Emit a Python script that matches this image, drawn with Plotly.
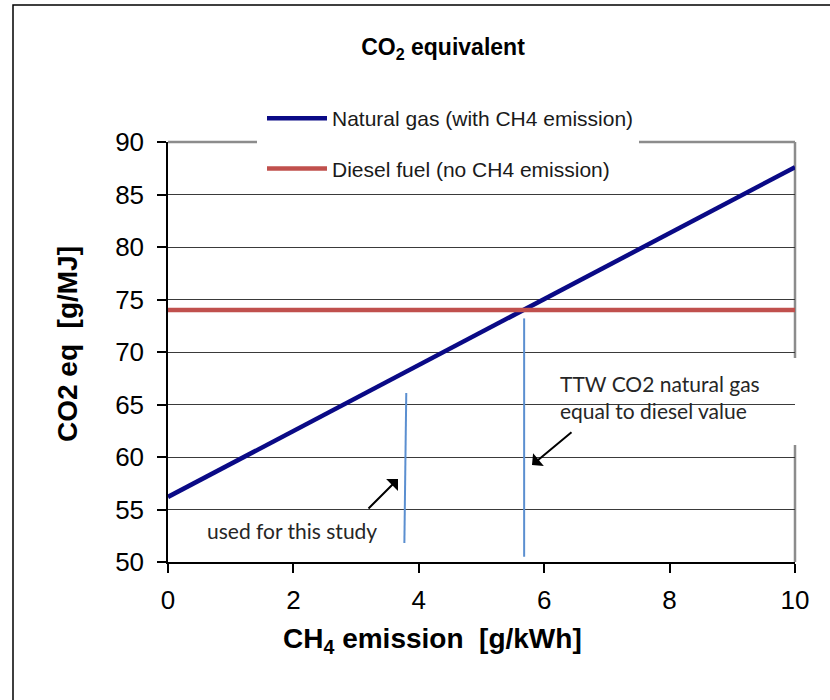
import plotly.graph_objects as go

# ---- data ----
ch4_emission = [0, 10]
natural_gas_co2 = [56.2, 87.6]
diesel_co2 = [74.0, 74.0]
study_x = [3.80, 3.77]
study_y = [66.1, 51.8]
equal_x = [5.68, 5.68]
equal_y = [73.2, 50.5]
x_ticks = [0, 2, 4, 6, 8, 10]
y_ticks = [50, 55, 60, 65, 70, 75, 80, 85, 90]

W, H = 830, 700
L, R, T, B = 168, 35, 142, 138
PW, PH = W - L - R, H - T - B


def px(xp):
    return (xp - L) / PW


def py(yp):
    return (H - B - yp) / PH


def dx(xp):
    return (xp - L) / PW * 10


def dy(yp):
    return 90 - (yp - T) / PH * 40


ARIAL = "Liberation Sans, Arial, sans-serif"
CALIBRI = "Lato, Carlito, Calibri, sans-serif"

fig = go.Figure()
fig.add_trace(go.Scatter(x=ch4_emission, y=natural_gas_co2, mode="lines",
                         name="Natural gas (with CH4 emission)", legendgroup="a",
                         line=dict(color="#0a0a86", width=4.5)))
fig.add_trace(go.Scatter(x=ch4_emission, y=diesel_co2, mode="lines",
                         name="Diesel fuel (no CH4 emission)", legendgroup="b",
                         line=dict(color="#c0504d", width=4.5)))
fig.add_trace(go.Scatter(x=study_x, y=study_y, mode="lines", showlegend=False,
                         line=dict(color="#5b8fd0", width=2)))
fig.add_trace(go.Scatter(x=equal_x, y=equal_y, mode="lines", showlegend=False,
                         line=dict(color="#5b8fd0", width=2)))

shapes = [
    # outer frame
    dict(type="rect", xref="paper", yref="paper", x0=px(13), x1=px(1000),
         y0=py(900), y1=py(5), line=dict(color="black", width=1.5), layer="below"),
    # top and right plot border (gray)
    dict(type="line", xref="paper", yref="paper", x0=0, x1=1, y0=1, y1=1,
         line=dict(color="#8c8c8c", width=2.5), layer="between"),
    dict(type="line", xref="paper", yref="paper", x0=1, x1=1, y0=0, y1=1,
         line=dict(color="#8c8c8c", width=2.5), layer="between"),
    # white text boxes hiding gridlines
    dict(type="rect", xref="paper", yref="paper", x0=px(538), x1=px(802),
         y0=py(445), y1=py(358), fillcolor="white", line=dict(width=0), layer="between"),
    dict(type="rect", xref="paper", yref="paper", x0=px(183), x1=px(416),
         y0=py(550), y1=py(497), fillcolor="white", line=dict(width=0), layer="between"),
    dict(type="rect", xref="paper", yref="paper", x0=px(257), x1=px(300),
         y0=py(150), y1=py(134), fillcolor="white", line=dict(width=0), layer="between"),
]

annotations = [
    dict(text="CO2 eq&nbsp;&nbsp;[g/MJ]", xref="paper", yref="paper", x=px(67), y=py(344),
         xanchor="center", yanchor="middle",
         textangle=-90, showarrow=False, font=dict(family=ARIAL, size=28, color="black",
                                                    weight="bold")),
    dict(text="CH<sub>4</sub> emission&nbsp;&nbsp;[g/kWh]", xref="paper", yref="paper",
         x=px(432), y=py(640), xanchor="center", yanchor="middle", showarrow=False,
         font=dict(family=ARIAL, size=28, color="black", weight="bold")),
    dict(text="TTW CO2 natural gas<br>equal to diesel value", xref="paper", yref="paper",
         x=px(558), y=py(397), xanchor="left", yanchor="middle", align="left",
         showarrow=False, font=dict(family=CALIBRI, size=21, color="#262626")),
    dict(text="used for this study", xref="paper", yref="paper", x=px(292), y=py(530),
         xanchor="center", yanchor="middle",
         showarrow=False, font=dict(family=CALIBRI, size=21, color="#262626")),
    dict(text="", x=dx(398), y=dy(479), ax=dx(367), ay=dy(510), axref="x", ayref="y",
         showarrow=True, arrowhead=1, arrowsize=1.4, arrowwidth=2, arrowcolor="black"),
    dict(text="", x=dx(532), y=dy(465), ax=dx(573), ay=dy(431), axref="x", ayref="y",
         showarrow=True, arrowhead=1, arrowsize=1.4, arrowwidth=2, arrowcolor="black"),
]

fig.update_layout(
    width=W, height=H,
    margin=dict(l=L, r=R, t=T, b=B),
    paper_bgcolor="white", plot_bgcolor="white",
    title=dict(text="CO<sub>2</sub> equivalent", x=px(443), xref="paper", xanchor="center",
               y=1 - 47 / H, yanchor="middle",
               font=dict(family=ARIAL, size=23, color="black", weight="bold")),
    showlegend=True,
    legend=dict(x=px(262), y=py(98), xanchor="left", yanchor="top",
                bgcolor="white", borderwidth=0, traceorder="grouped", itemwidth=60,
                tracegroupgap=20, font=dict(family=ARIAL, size=21, color="#1a1a1a")),
    shapes=shapes,
    annotations=annotations,
    xaxis=dict(range=[0, 10], tickvals=x_ticks, ticktext=[str(v) for v in x_ticks],
               showgrid=False, zeroline=False, showline=True, linecolor="black",
               linewidth=1.5, ticks="outside", ticklen=9, tickwidth=1.5, tickcolor="black",
               tickfont=dict(family=ARIAL, size=26, color="black"), ticklabelstandoff=5),
    yaxis=dict(range=[50, 90], tickvals=y_ticks, ticktext=[str(v) for v in y_ticks],
               showgrid=True, gridcolor="#3a3a3a", gridwidth=1.2, zeroline=False,
               showline=True, linecolor="black", linewidth=1.5, ticks="outside",
               ticklen=9, tickwidth=1.5, tickcolor="black",
               tickfont=dict(family=ARIAL, size=26, color="black"), ticklabelstandoff=8),
)

fig.write_html("out.html", config={"displayModeBar": False},
               post_script="document.body.style.margin='0';"
                           "document.body.style.overflow='hidden';")
